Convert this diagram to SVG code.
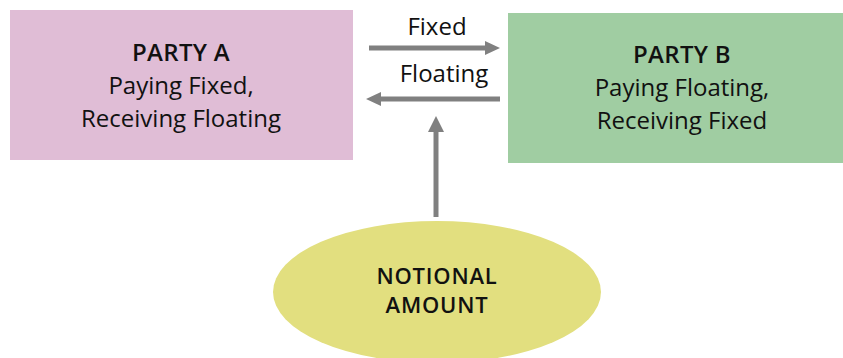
<svg xmlns="http://www.w3.org/2000/svg" width="843" height="358" viewBox="0 0 843 358">
<defs>
<style>
text{font-family:"Open Sans","Noto Sans","Liberation Sans",sans-serif;fill:#111;text-anchor:middle}
.t{font-size:24px}
.b{font-size:24px;font-weight:600;letter-spacing:0.3px}
.n{font-size:22px;font-weight:600;letter-spacing:0.8px}
.c{stroke:#808080;stroke-width:5;fill:none}
.h{fill:#808080}
</style>
</defs>
<rect width="843" height="358" fill="#fff"/>
<g id="partyA">
<rect x="10" y="10" width="343" height="150" fill="#e0bdd6"/>
<text class="b" x="181" y="61">PARTY A</text>
<text class="t" x="181" y="94">Paying Fixed,</text>
<text class="t" x="181" y="127">Receiving Floating</text>
</g>
<g id="partyB">
<rect x="508" y="13" width="335" height="150" fill="#a0cda2"/>
<text class="b" x="682" y="63">PARTY B</text>
<text class="t" x="682" y="96">Paying Floating,</text>
<text class="t" x="682" y="129">Receiving Fixed</text>
</g>
<g id="notional">
<ellipse cx="437" cy="292" rx="164" ry="71" fill="#e2df7f"/>
<text class="n" x="437" y="284">NOTIONAL</text>
<text class="n" x="437" y="313">AMOUNT</text>
</g>
<g id="connectors">
<line class="c" x1="369" y1="48" x2="486" y2="48"/>
<polygon class="h" points="485,41 500,48 485,55"/>
<text class="t" x="437" y="35">Fixed</text>
<line class="c" x1="500" y1="99" x2="380" y2="99"/>
<polygon class="h" points="381,92 366,99 381,106"/>
<text class="t" x="444" y="82">Floating</text>
<line class="c" x1="436" y1="217" x2="436" y2="131"/>
<polygon class="h" points="428,132 436,116 444,132"/>
</g>
</svg>
